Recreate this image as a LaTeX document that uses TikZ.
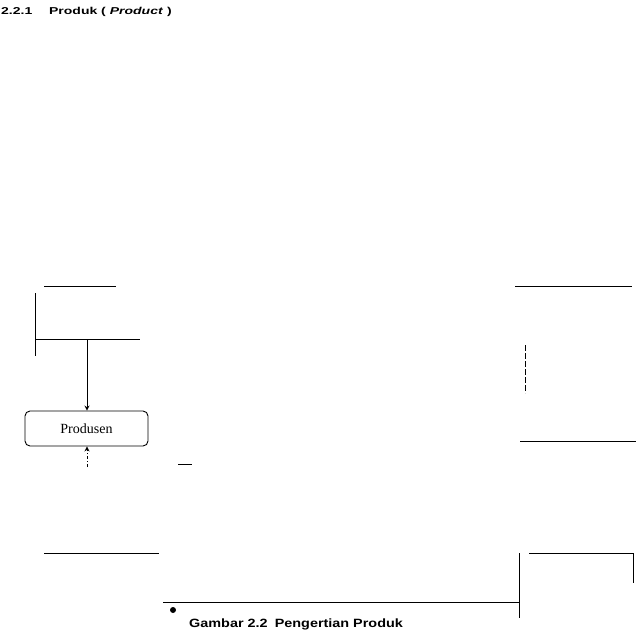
\documentclass[tikz,border=0pt]{standalone}
\usepackage{fontspec}
\setmainfont{Liberation Serif}
\setsansfont{Liberation Sans}
\usetikzlibrary{arrows.meta}
\begin{document}
\begin{tikzpicture}[x=1pt,y=-1pt,
  ln/.style={line width=1pt,black},
  boxstyle/.style={draw,line width=0.9pt,rounded corners=5pt,minimum width=123pt,minimum height=35pt,inner sep=0pt,font=\fontsize{14}{16}\selectfont},
  arr/.style={line width=0.8pt,-{Stealth[open,length=5pt,width=5pt]}}
]
\useasboundingbox (0,0) rectangle (637,630);
% title
\node[anchor=west,inner sep=0pt,font=\sffamily\bfseries\fontsize{10}{12}\selectfont] (title) at (1,12) {\scalebox{1.4}[1]{2.2.1\hspace{1.2em}Produk ( \textit{Product} )}};
% left structure
\coordinate (a1) at (44,286); \coordinate (a2) at (116,286);
\draw[ln] (a1) -- (a2);
\coordinate (v1) at (35,293); \coordinate (v2) at (35,356);
\draw[ln] (v1) -- (v2);
\coordinate (h1) at (35,339); \coordinate (h2) at (140,339);
\draw[ln] (h1) -- (h2);
\node[boxstyle] (prod) at (86.5,428.5) {Produsen};
\coordinate (tj) at (87,339);
\draw[arr] (tj) -- (prod.north -| tj);
\coordinate (bot) at (87,467);
\draw[arr,dash dot] (bot) -- (prod.south -| bot);
\coordinate (s1) at (178,464); \coordinate (s2) at (192,464);
\draw[ln] (s1) -- (s2);
\coordinate (b1) at (44,553); \coordinate (b2) at (159,553);
\draw[ln] (b1) -- (b2);
% bottom
\coordinate (c1) at (163,602); \coordinate (c2) at (519,602);
\draw[ln] (c1) -- (c2);
\coordinate (d1) at (519,553); \coordinate (d2) at (519,618);
\draw[ln] (d1) -- (d2);
\coordinate (e1) at (529,553); \coordinate (e2) at (633,553); \coordinate (e3) at (633,583);
\draw[ln] (e1) -- (e2);
\draw[ln] (e2) -- (e3);
% right structure
\coordinate (r1) at (515,286); \coordinate (r2) at (632,286);
\draw[ln] (r1) -- (r2);
\coordinate (q1) at (525,345); \coordinate (q2) at (525,393);
\draw[ln,dashed,dash pattern=on 6pt off 2pt] (q1) -- (q2);
\coordinate (p1) at (520,441); \coordinate (p2) at (636,441);
\draw[ln] (p1) -- (p2);
% bullet and caption
\node[circle,fill=black,inner sep=0pt,minimum size=6pt] (dot) at (173,610) {};
\node[anchor=west,inner sep=0pt,font=\sffamily\bfseries\fontsize{12}{14}\selectfont] (cap) at (189,624) {\scalebox{1.2}[1]{Gambar 2.2\hspace{0.5em}Pengertian Produk}};
\end{tikzpicture}
\end{document}
